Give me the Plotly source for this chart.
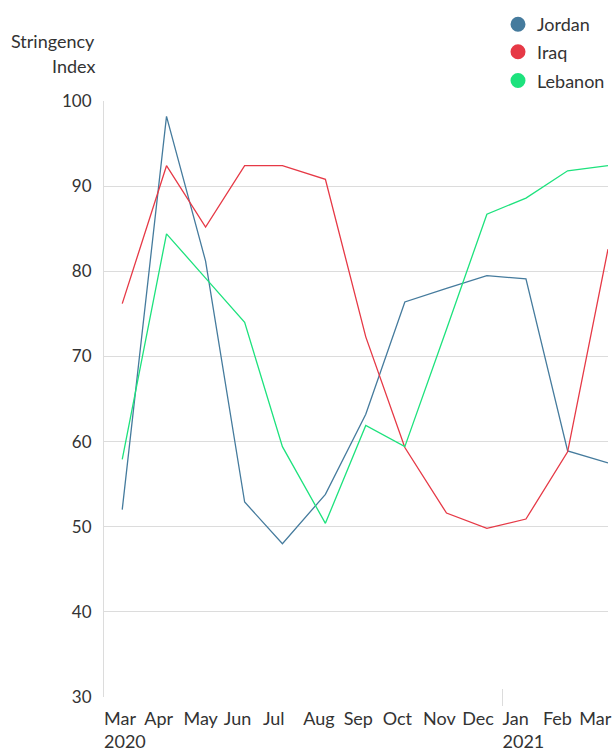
import plotly.graph_objects as go

dates = ["2020-03-15", "2020-04-18", "2020-05-18", "2020-06-17", "2020-07-16",
         "2020-08-18", "2020-09-18", "2020-10-18", "2020-11-19", "2020-12-20",
         "2021-01-19", "2021-02-20", "2021-03-23"]
jordan = [52.0, 98.2, 81.2, 52.9, 48.0, 53.8, 63.2, 76.4, 78.0, 79.5, 79.1, 58.9, 57.5]
iraq = [76.2, 92.4, 85.2, 92.4, 92.4, 90.8, 72.3, 59.3, 51.6, 49.8, 50.9, 58.8, 82.6]
lebanon = [57.9, 84.4, 79.2, 74.0, 59.4, 50.4, 61.9, 59.4, 73.2, 86.7, 88.6, 91.8, 92.4]

series_names = ["Jordan", "Iraq", "Lebanon"]
series_values = [jordan, iraq, lebanon]
colors = ["#457b9d", "#e63946", "#1de27d"]

tick_dates = ["2020-03-01", "2020-04-01", "2020-05-01", "2020-06-01", "2020-07-01",
              "2020-08-01", "2020-09-01", "2020-10-01", "2020-11-01", "2020-12-01",
              "2021-01-01", "2021-02-01", "2021-03-01"]
tick_labels = ["Mar<br>2020", "Apr", "May", "Jun", "Jul", "Aug", "Sep", "Oct", "Nov",
               "Dec", "Jan<br>2021", "Feb", "Mar"]
y_ticks = [30, 40, 50, 60, 70, 80, 90, 100]

FONT = "Lato"
TXT = "#333333"
GRID = "#dcdcdc"
FS = 18

fig = go.Figure()
for name, vals, col in zip(series_names, series_values, colors):
    fig.add_trace(go.Scatter(x=dates, y=vals, mode="lines", name=name,
                             line=dict(color=col, width=1.3), showlegend=False))

W, H = 613, 751
L, R, T, B = 104, 5, 101, 54
pw, ph = W - L - R, H - T - B

def px_x(x):
    return (x - L) / pw

def px_y(y):
    return (H - B - y) / ph

shapes = []
annotations = []
# legend
leg_y = [24.3, 51.7, 80.5]
for name, col, yy in zip(series_names, colors, leg_y):
    shapes.append(dict(type="circle", xref="paper", yref="paper",
                       xsizemode="pixel", ysizemode="pixel",
                       xanchor=px_x(518), yanchor=px_y(yy),
                       x0=-7.5, x1=7.5, y0=-7.5, y1=7.5,
                       fillcolor=col, line=dict(width=0)))
    annotations.append(dict(text=name, xref="paper", yref="paper",
                            x=px_x(535), y=px_y(yy), xanchor="left", yanchor="middle",
                            showarrow=False, font=dict(family=FONT, size=FS, color=TXT)))
# y axis title
annotations.append(dict(text="Stringency", xref="paper", yref="paper",
                        x=px_x(97), y=px_y(41.5), xanchor="right", yanchor="middle",
                        showarrow=False, font=dict(family=FONT, size=FS, color=TXT)))
annotations.append(dict(text="Index", xref="paper", yref="paper",
                        x=px_x(97), y=px_y(66.5), xanchor="right", yanchor="middle",
                        showarrow=False, font=dict(family=FONT, size=FS, color=TXT)))
# year tick mark at Jan 2021
shapes.append(dict(type="line", xref="x", yref="paper",
                   x0="2021-01-01", x1="2021-01-01", y0=px_y(689), y1=px_y(706),
                   line=dict(color=GRID, width=1)))

fig.update_layout(
    width=W, height=H,
    margin=dict(l=L, r=R, t=T, b=B),
    paper_bgcolor="white", plot_bgcolor="white",
    font=dict(family=FONT, size=FS, color=TXT),
    shapes=shapes, annotations=annotations,
    xaxis=dict(type="date", range=["2020-03-01", "2021-03-23"],
               tickvals=tick_dates, ticktext=tick_labels, tickangle=0,
               ticklabelposition="outside right", ticklabelstandoff=9,
               automargin=False,
               showgrid=False, zeroline=False, showline=False, ticks="",
               tickfont=dict(family=FONT, size=FS, color=TXT)),
    yaxis=dict(range=[30, 100], tickvals=y_ticks, showgrid=True, gridcolor=GRID,
               gridwidth=1, zeroline=False, showline=True, linecolor=GRID, linewidth=1,
               ticks="", ticklabelstandoff=8, automargin=False,
               tickfont=dict(family=FONT, size=17, color=TXT)),
)

fig.write_html("out.html")
